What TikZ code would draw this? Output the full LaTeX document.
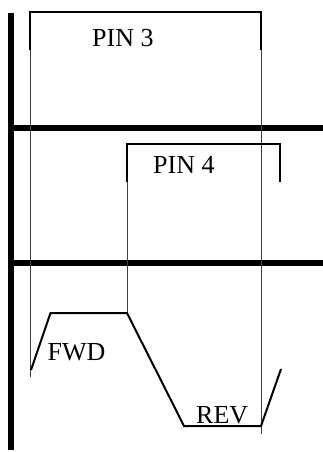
\documentclass[tikz,border=0pt]{standalone}
\usepackage{fontspec}
\setmainfont{Liberation Serif}
\begin{document}
\begin{tikzpicture}[x=1pt,y=-1pt,
  bar/.style={line width=5.5pt},
  pulse/.style={line width=2pt},
  guide/.style={line width=0.8pt,black!75},
  wave/.style={line width=2pt,line join=miter},
  lbl/.style={anchor=base west,inner sep=0pt,font=\fontsize{26}{30}\selectfont}]
\useasboundingbox (0,0) rectangle (323,452);
% thick bars
\draw[bar] (11,13) -- (11,450);
\draw[bar] (8.25,128) -- (323,128);
\draw[bar] (8.25,263) -- (323,263);
% guide lines
\draw[guide] (30,50) -- (30,377);
\draw[guide] (261,50) -- (261,434);
\draw[guide] (127,182) -- (127,313);
% PIN 3 pulse
\draw[pulse] (30,50) -- (30,12) -- (261,12) -- (261,50);
% PIN 4 pulse
\draw[pulse] (127,182) -- (127,143.5) -- (280,143.5) -- (280,182);
% waveform
\draw[wave] (31,370) -- (50.5,313) -- (127,313) -- (184,426) -- (261,426) -- (281,369);
% labels
\node[lbl] (pin3) at (92,47) {PIN 3};
\node[lbl] (pin4) at (153,173) {PIN 4};
\node[lbl] (fwd) at (47.5,360) {FWD};
\node[lbl] (rev) at (196,423) {REV};
\end{tikzpicture}
\end{document}
